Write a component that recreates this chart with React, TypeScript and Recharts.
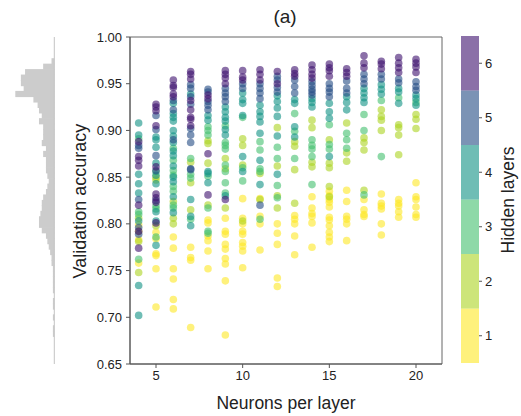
import React from 'react';
import {
  ScatterChart,
  Scatter,
  XAxis,
  YAxis,
  ReferenceArea,
  BarChart,
  Bar,
  ReferenceLine,
} from 'recharts';

// neurons per layer (x positions of the columns)
const neurons = [4, 5, 6, 7, 8, 9, 10, 11, 12, 13, 14, 15, 16, 17, 18, 19, 20];

// validation accuracy per hidden-layer count, one list per neuron count
const acc1: number[][] = [
  [0.799, 0.792, 0.783, 0.758],
  [0.791, 0.784, 0.768, 0.766, 0.752, 0.711],
  [0.786, 0.774, 0.752, 0.741, 0.719, 0.709],
  [0.775, 0.764, 0.761, 0.689],
  [0.804, 0.801, 0.787, 0.782, 0.771, 0.752],
  [0.806, 0.792, 0.789, 0.778, 0.773, 0.763, 0.757, 0.739, 0.681],
  [0.827, 0.806, 0.8, 0.792, 0.789, 0.78, 0.776, 0.771, 0.753],
  [0.827, 0.808, 0.8, 0.772],
  [0.8, 0.79, 0.778, 0.742, 0.733],
  [0.809, 0.805, 0.8, 0.787, 0.767],
  [0.829, 0.817, 0.811, 0.808, 0.801, 0.775],
  [0.835, 0.83, 0.826, 0.823, 0.818, 0.807, 0.804, 0.798, 0.791, 0.786, 0.781],
  [0.836, 0.824, 0.808, 0.805, 0.8, 0.782],
  [0.826, 0.815, 0.81, 0.808],
  [0.832, 0.822, 0.819, 0.816, 0.8, 0.788],
  [0.826, 0.822, 0.819, 0.813, 0.807],
  [0.844, 0.829, 0.826, 0.818, 0.81, 0.807],
];
const acc2: number[][] = [
  [0.806, 0.781, 0.748],
  [0.85, 0.847, 0.798],
  [0.824, 0.806, 0.8],
  [0.866, 0.844, 0.815],
  [0.889, 0.886, 0.865, 0.82],
  [0.87, 0.859, 0.817],
  [0.891, 0.884, 0.863, 0.803],
  [0.854, 0.826],
  [0.903, 0.862, 0.83, 0.817],
  [0.888, 0.883, 0.858, 0.822],
  [0.911, 0.903, 0.866, 0.861],
  [0.89, 0.865, 0.86, 0.84, 0.829],
  [0.908, 0.876, 0.867],
  [0.892, 0.887, 0.879, 0.836],
  [0.922, 0.915, 0.911, 0.9],
  [0.906, 0.903, 0.895, 0.874],
  [0.917, 0.912, 0.902],
];
const acc3: number[][] = [
  [0.891, 0.813, 0.81, 0.762],
  [0.856, 0.819, 0.816, 0.786],
  [0.881, 0.868, 0.857, 0.852, 0.84, 0.835, 0.82, 0.817],
  [0.87, 0.853, 0.849, 0.805],
  [0.904, 0.9, 0.895, 0.851, 0.817, 0.792, 0.79],
  [0.905, 0.887, 0.884, 0.88, 0.863, 0.856, 0.844, 0.833],
  [0.914, 0.86, 0.846],
  [0.888, 0.879, 0.859, 0.856, 0.805],
  [0.882, 0.87, 0.841, 0.828],
  [0.918, 0.899, 0.87],
  [0.89, 0.884, 0.88, 0.872, 0.842],
  [0.906, 0.885, 0.88],
  [0.897, 0.89, 0.881],
  [0.917, 0.9, 0.831],
  [0.932, 0.872],
  [0.935],
  [0.93],
];
const acc4: number[][] = [
  [0.908, 0.895, 0.853, 0.843, 0.833, 0.803, 0.734, 0.702],
  [0.893, 0.89, 0.882, 0.865, 0.852, 0.843, 0.813, 0.803, 0.777],
  [0.929, 0.918, 0.914, 0.91, 0.9, 0.894, 0.887, 0.878, 0.873, 0.862, 0.85, 0.845, 0.829, 0.812],
  [0.939, 0.826, 0.808, 0.798],
  [0.916, 0.911, 0.856, 0.854, 0.844],
  [0.925, 0.92, 0.914, 0.91, 0.901, 0.895, 0.83],
  [0.94, 0.933, 0.929, 0.916, 0.872, 0.856],
  [0.927, 0.92, 0.915, 0.909, 0.897, 0.868, 0.842],
  [0.937, 0.931, 0.924, 0.915, 0.894, 0.853],
  [0.933, 0.929, 0.904, 0.893],
  [0.934, 0.93, 0.925],
  [0.929, 0.92, 0.913, 0.872],
  [0.936, 0.93, 0.922],
  [0.945, 0.94, 0.935, 0.93],
  [0.949, 0.944, 0.939],
  [0.945, 0.941, 0.929],
  [0.938, 0.934, 0.927],
];
const acc5: number[][] = [
  [0.884, 0.881, 0.826, 0.796, 0.789],
  [0.916, 0.901, 0.873, 0.857, 0.825],
  [0.932, 0.922, 0.89],
  [0.949, 0.945, 0.936, 0.928, 0.902, 0.895, 0.887, 0.859, 0.858],
  [0.944, 0.941, 0.931, 0.927, 0.922],
  [0.945, 0.94, 0.936, 0.931],
  [0.95, 0.945],
  [0.95, 0.945, 0.94, 0.934, 0.82],
  [0.958, 0.954, 0.946, 0.941],
  [0.954, 0.947, 0.94],
  [0.952, 0.948, 0.944, 0.941, 0.938],
  [0.95, 0.945, 0.941, 0.936],
  [0.953, 0.945, 0.94],
  [0.96, 0.955, 0.95],
  [0.96, 0.955],
  [0.955, 0.951],
  [0.952, 0.947, 0.943],
];
const acc6: number[][] = [
  [0.888, 0.872, 0.868, 0.862, 0.82, 0.792, 0.774],
  [0.928, 0.925, 0.921, 0.905, 0.861, 0.832, 0.828, 0.823, 0.801],
  [0.954, 0.948, 0.946, 0.939, 0.936],
  [0.963, 0.96, 0.955, 0.932, 0.922, 0.914, 0.912, 0.905],
  [0.938, 0.934, 0.875, 0.831],
  [0.964, 0.96, 0.956, 0.95, 0.826],
  [0.964, 0.957, 0.954],
  [0.965, 0.96, 0.954],
  [0.963, 0.95],
  [0.965, 0.961, 0.958],
  [0.97, 0.965, 0.96, 0.956],
  [0.971, 0.967, 0.964, 0.958],
  [0.966, 0.962, 0.958],
  [0.98, 0.972, 0.967],
  [0.974, 0.971, 0.966],
  [0.978, 0.972, 0.967, 0.962],
  [0.976, 0.972, 0.968, 0.962],
];

const layers = [1, 2, 3, 4, 5, 6];
const layerAcc = [acc1, acc2, acc3, acc4, acc5, acc6];
const layerColors = ['#fde725', '#acd421', '#43c06e', '#0f9184', '#234b84', '#3e116e'];

const xTicks = [5, 10, 15, 20];
const yTicks = [0.65, 0.7, 0.75, 0.8, 0.85, 0.9, 0.95, 1.0];

// marginal histogram, bins of 0.35/60 from 1.00 (top) down to 0.65
const histCounts = [
  0, 0, 0, 0, 2, 8, 21, 24, 24, 22,
  28, 15, 12, 11, 9, 11, 8, 8, 8, 9,
  6, 8, 6, 6, 6, 5, 4, 5, 6, 8,
  9, 9, 10, 11, 11, 9, 6, 5, 4, 3,
  2, 2, 1, 1, 1, 1, 1, 0, 1, 1,
  0, 1, 0, 1, 1, 0, 0, 0, 0, 0,
];
const binWidth = 0.35 / 60;

const font = '"Liberation Sans", Arial, Helvetica, sans-serif';
const tickStyle = { fill: '#222', fontSize: 13, fontFamily: font };

function toPoints(acc: number[][]) {
  return acc.flatMap((vals, i) => vals.map((v) => ({ x: neurons[i], y: v })));
}

// bars a hair taller than their band so neighbouring bins don't show seams
const HistBar = (p: any) => {
  const w = Math.abs(p.width || 0);
  if (!w) return null;
  const x = Math.min(p.x, p.x + p.width);
  const h = Math.abs(p.height || 0);
  const y = Math.min(p.y, p.y + p.height);
  return <rect x={x} y={y - 0.6} width={w} height={h + 1.2} fill="#cccccc" />;
};

export default function App() {
  const histData = histCounts.map((count, k) => ({
    bin: (1 - (k + 0.5) * binWidth).toFixed(4),
    count,
  }));
  const barRow: Record<string, number | string> = { name: 'cb' };
  layers.forEach((l) => {
    barRow[`l${l}`] = 1;
  });

  return (
    <div
      style={{
        position: 'absolute',
        left: 0,
        top: 0,
        width: 521,
        height: 416,
        background: '#fff',
        fontFamily: font,
        color: '#222',
      }}
    >
      {/* marginal histogram */}
      <div style={{ position: 'absolute', left: 0, top: 37 }}>
        <BarChart
          width={60}
          height={327}
          layout="vertical"
          data={histData}
          barCategoryGap={0}
          margin={{ top: 0, right: 5.7, bottom: 0, left: 15.3 }}
        >
          <XAxis type="number" domain={[0, 28]} reversed hide />
          <YAxis type="category" dataKey="bin" hide />
          <Bar dataKey="count" fill="#cccccc" shape={HistBar} isAnimationActive={false} />
          <ReferenceLine x={0} stroke="#c4c4c4" strokeWidth={1} />
        </BarChart>
      </div>

      {/* main scatter */}
      <div style={{ position: 'absolute', left: 0, top: 0 }}>
        <ScatterChart
          width={521}
          height={416}
          margin={{ top: 37, right: 79, bottom: 22, left: 70 }}
        >
          <XAxis
            type="number"
            dataKey="x"
            domain={[3.5, 21.5]}
            ticks={xTicks}
            allowDataOverflow
            height={30}
            tick={tickStyle}
            tickSize={4}
            tickMargin={3}
            stroke="#555"
          />
          <YAxis
            type="number"
            dataKey="y"
            domain={[0.65, 1.0]}
            ticks={yTicks}
            allowDataOverflow
            width={60}
            tick={tickStyle}
            tickSize={4}
            tickMargin={4}
            tickFormatter={(v: number) => v.toFixed(2)}
            stroke="#555"
          />
          <ReferenceArea
            x1={3.5}
            x2={21.5}
            y1={0.65}
            y2={1.0}
            fill="none"
            fillOpacity={0}
            stroke="#666"
            strokeWidth={1}
          />
          {layers.map((l, i) => (
            <Scatter
              key={l}
              data={toPoints(layerAcc[i])}
              isAnimationActive={false}
              shape={(p: any) => (
                <circle cx={p.cx} cy={p.cy} r={3.8} fill={layerColors[i]} fillOpacity={0.6} />
              )}
            />
          ))}
        </ScatterChart>
      </div>

      {/* colour bar */}
      <div style={{ position: 'absolute', left: 461, top: 36 }}>
        <BarChart
          width={48}
          height={327}
          data={[barRow]}
          barCategoryGap={0}
          margin={{ top: 0, right: 0, bottom: 0, left: 0 }}
        >
          <XAxis dataKey="name" hide />
          <YAxis
            type="number"
            orientation="right"
            domain={[0, 6]}
            ticks={[0.5, 1.5, 2.5, 3.5, 4.5, 5.5]}
            tickFormatter={(v: number) => String(v + 0.5)}
            width={30}
            axisLine={false}
            tickSize={3}
            tickMargin={3}
            tick={tickStyle}
            stroke="#555"
          />
          {layers.map((l, i) => (
            <Bar
              key={l}
              dataKey={`l${l}`}
              stackId="cb"
              fill={layerColors[i]}
              fillOpacity={0.6}
              isAnimationActive={false}
            />
          ))}
        </BarChart>
      </div>

      {/* texts */}
      <div
        style={{
          position: 'absolute',
          left: 285,
          top: 17,
          transform: 'translate(-50%, -50%)',
          fontSize: 19,
          whiteSpace: 'nowrap',
        }}
      >
        (a)
      </div>
      <div
        style={{
          position: 'absolute',
          left: 286,
          top: 403,
          transform: 'translate(-50%, -50%)',
          fontSize: 17.5,
          whiteSpace: 'nowrap',
        }}
      >
        Neurons per layer
      </div>
      <div
        style={{
          position: 'absolute',
          left: 80,
          top: 201,
          transform: 'translate(-50%, -50%) rotate(-90deg)',
          fontSize: 18,
          whiteSpace: 'nowrap',
        }}
      >
        Validation accuracy
      </div>
      <div
        style={{
          position: 'absolute',
          left: 508,
          top: 200,
          transform: 'translate(-50%, -50%) rotate(-90deg)',
          fontSize: 17.5,
          whiteSpace: 'nowrap',
        }}
      >
        Hidden layers
      </div>
    </div>
  );
}
